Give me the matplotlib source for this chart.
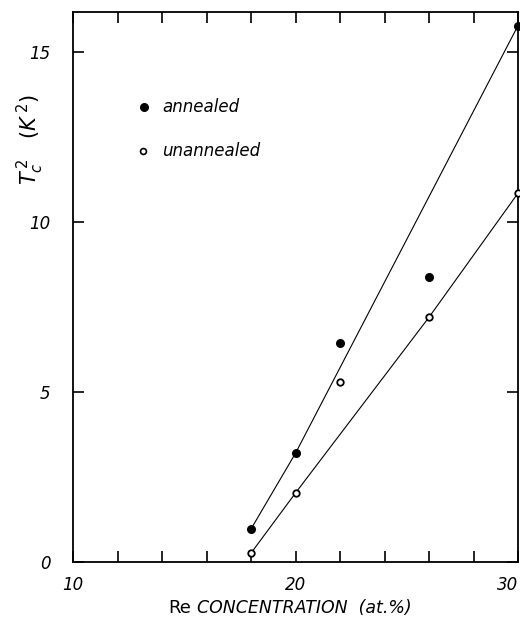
import numpy as np
import matplotlib
matplotlib.use('Agg')
import matplotlib.pyplot as plt

# measured points, Re concentration (at.%) vs Tc^2 (K^2)
x_ann = [18, 20, 22, 26, 30]
y_ann = [0.97, 3.2, 6.45, 8.38, 15.78]
x_unann = [18, 20, 22, 26, 30]
y_unann = [0.26, 2.03, 5.3, 7.2, 10.85]

# hand drawn guide lines through the points
fit_ann_x = [18, 20, 30]
fit_ann_y = [0.97, 3.2, 15.78]
fit_unann_x = [18, 20, 26, 30]
fit_unann_y = [0.26, 2.03, 7.2, 10.85]

xticks = [10, 20, 30]
yticks = [0, 5, 10, 15]

fig = plt.figure(figsize=(5.2, 6.26), dpi=100)
ax = fig.add_axes([73/520, 1-562/626, (518-73)/520, (562-12)/626])

ax.plot(fit_ann_x, fit_ann_y, color='black', lw=0.8, zorder=2)
ax.plot(fit_unann_x, fit_unann_y, color='black', lw=0.8, zorder=2)
ax.scatter(x_ann, y_ann, s=30, c='black', zorder=3, clip_on=False)
ax.scatter(x_unann, y_unann, s=22, facecolors='white', edgecolors='black',
           linewidths=1.3, zorder=3, clip_on=False)

ax.set_xlim(10, 30)
ax.set_ylim(0, 16.18)
ax.set_xticks(np.arange(10, 31, 2), minor=True)
ax.set_xticks(xticks)
ax.set_yticks(yticks)
ax.set_xticklabels([str(t) for t in xticks], fontstyle='italic', fontsize=12)
ax.set_yticklabels([str(t) for t in yticks], fontstyle='italic', fontsize=12)
ax.tick_params(which='both', direction='in', length=8, width=1.2,
               top=True, right=True, pad=10)
ax.tick_params(axis='y', pad=16)
# keep the last label inside the picture
ax.get_xticklabels()[-1].set_horizontalalignment('right')
for s in ax.spines.values():
    s.set_linewidth(1.3)

# legend drawn by hand like the original
ax.scatter([13.2], [13.38], s=30, c='black', clip_on=False)
ax.text(14.0, 13.38, 'annealed', fontstyle='italic', fontsize=12, va='center')
ax.scatter([13.15], [12.1], s=18, facecolors='white', edgecolors='black', linewidths=1.2)
ax.text(14.0, 12.1, 'unannealed', fontstyle='italic', fontsize=12, va='center')

fig.text(30/520, 1-140/626, r'$T_c^{\,2}$   $(K^{\,2})$', rotation=90,
         ha='center', va='center', fontsize=15, math_fontfamily='dejavusans')
fig.text(168/520, 1-608/626, 'Re', fontsize=13, ha='left', va='center')
fig.text(197/520, 1-608/626, 'CONCENTRATION  (at.%)', fontsize=12.5,
         fontstyle='italic', ha='left', va='center')

fig.savefig('out.png', dpi=100)
